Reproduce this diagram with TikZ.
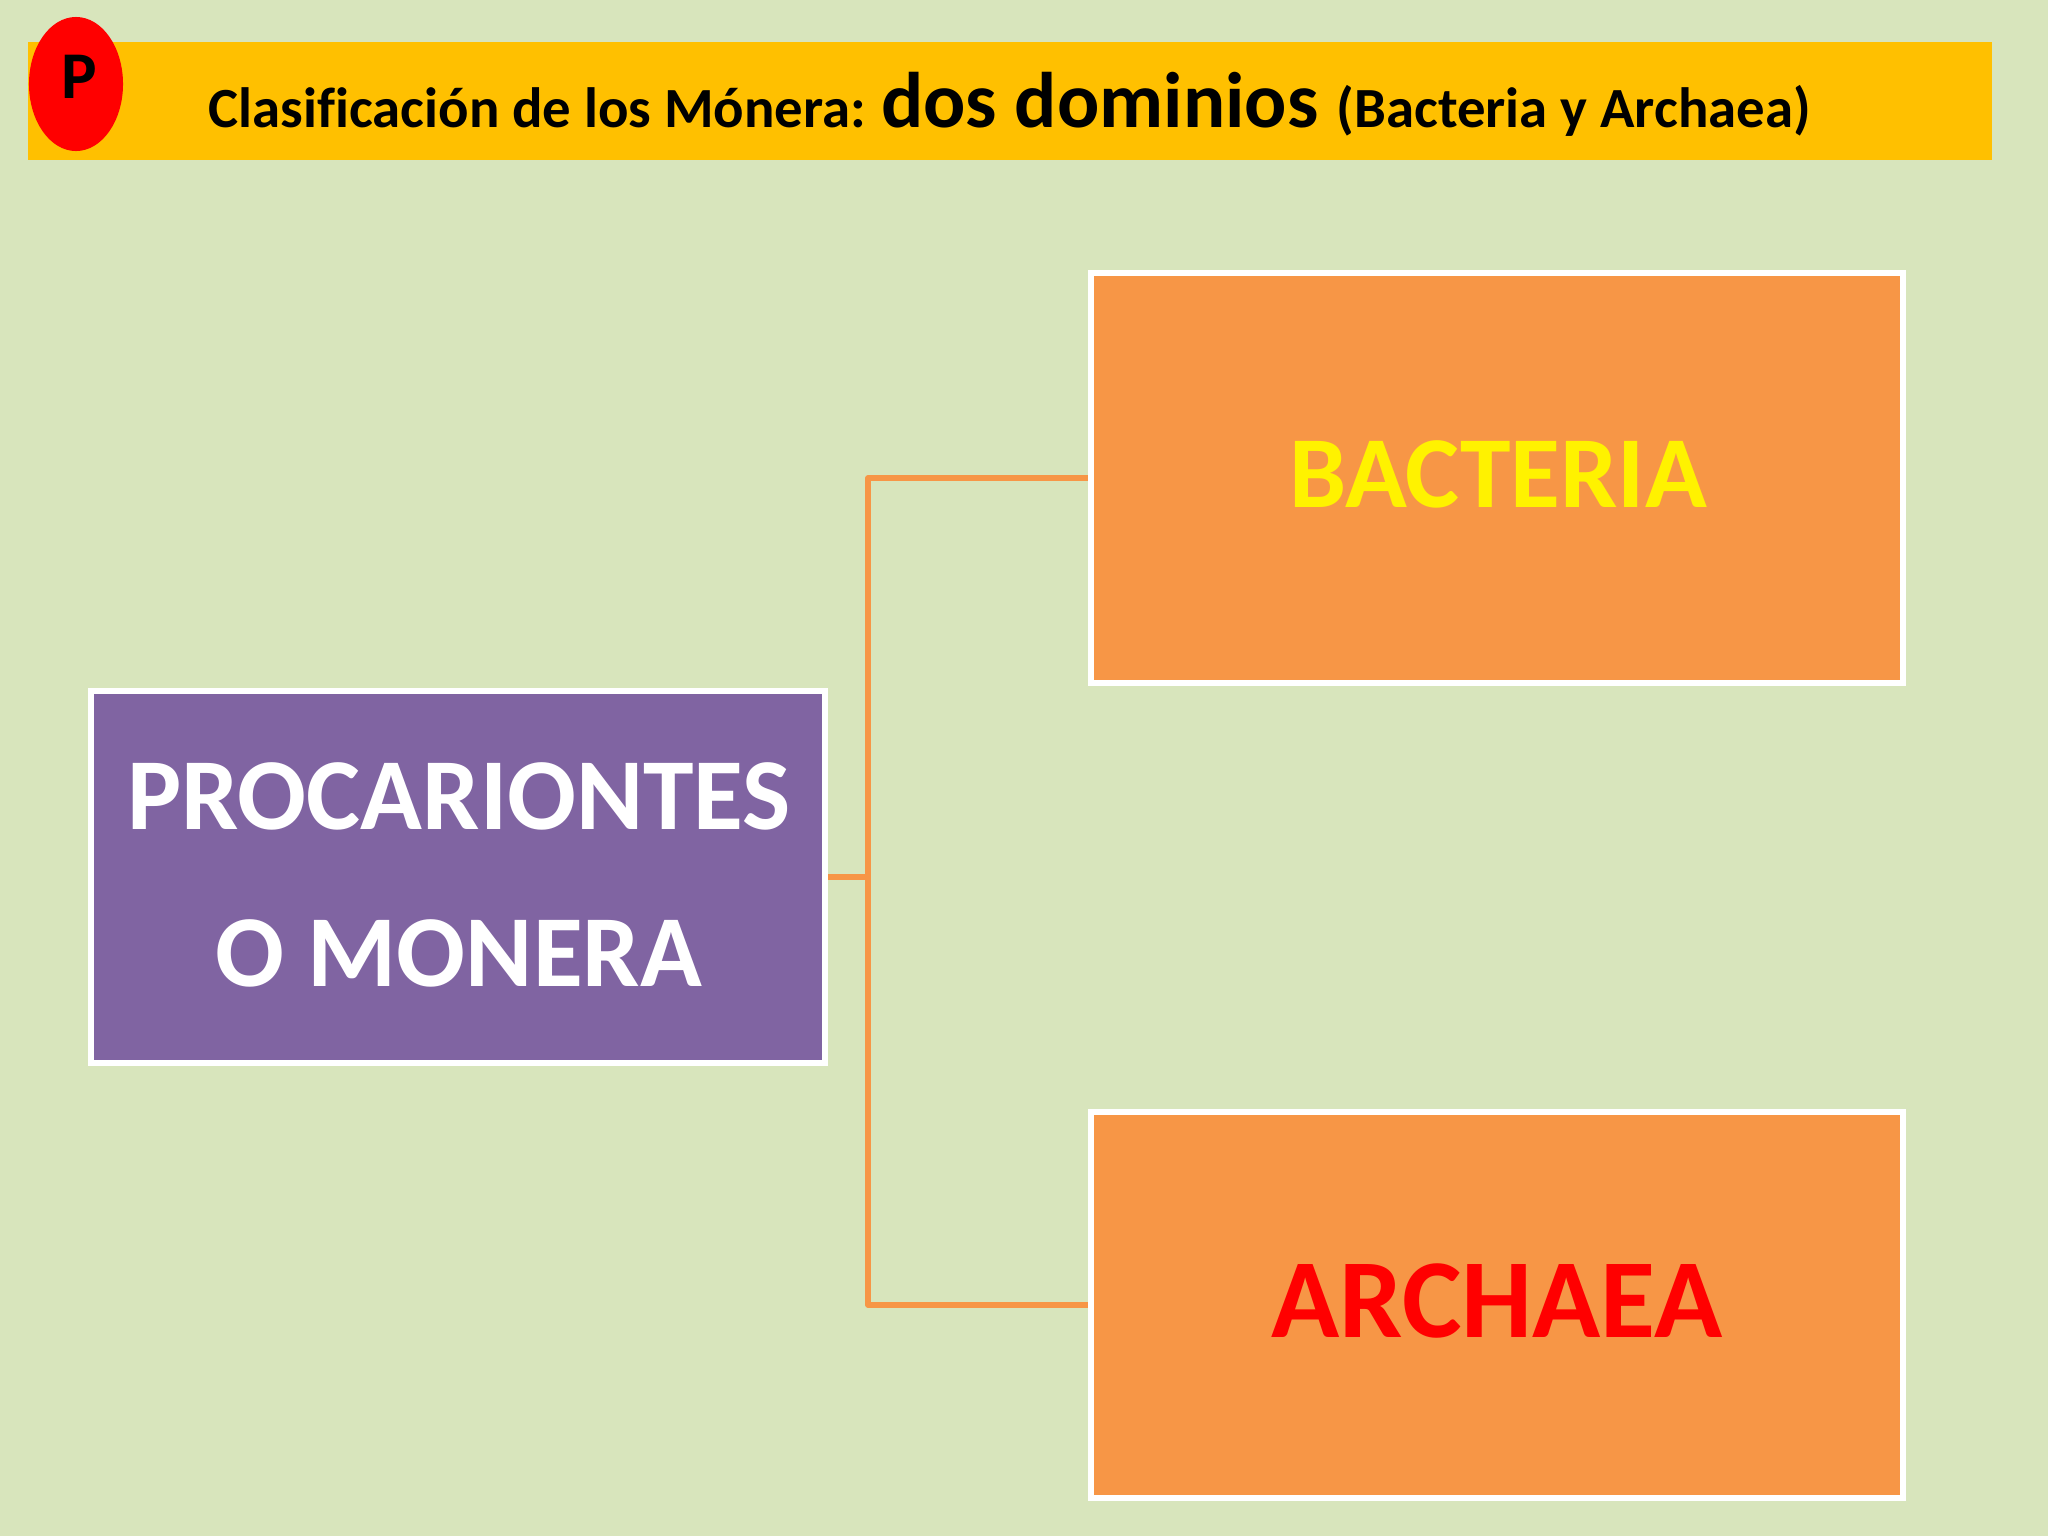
\documentclass[tikz,border=0pt]{standalone}
\usepackage{fontspec}
\setmainfont[Ligatures=NoCommon]{Carlito}
\usetikzlibrary{shapes.geometric}
\definecolor{fondo}{HTML}{D8E5BC}
\definecolor{banda}{HTML}{FFC000}
\definecolor{naranja}{HTML}{F79646}
\definecolor{morado}{HTML}{8064A2}
\tikzset{
    caja/.style={draw=white,line width=.06cm,inner sep=0pt},
    rotulo/.style={inner sep=0pt,align=center},
    enlace/.style={draw=naranja,line width=.055cm,line join=round},
}
\begin{document}
\begin{tikzpicture}[x=.01cm,y=-.01cm]
    \fill[fondo] (0,0) rectangle (2048,1536);
    \node[fill=banda,inner sep=0pt,minimum width=19.62cm,minimum height=1.18cm] (banda) at (1010,101) {};
    \node[ellipse,fill=red,inner sep=0pt,minimum width=.94cm,minimum height=1.34cm] (circulo) at (76,84) {};
    \node[rotulo,font=\fontsize{19}{19}\selectfont\bfseries] (letra) at (79,77) {P};
    \node[anchor=base west,inner sep=0pt,font=\fontsize{16.15}{16}\selectfont\bfseries] (titulo) at (208,127)
        {Clasificación de los Mónera:\hspace{-.6pt} {\fontsize{22.4}{22}\selectfont dos dominios}\hspace{1.6pt} (Bacteria y Archaea)};
    \node[caja,fill=morado,minimum width=7.34cm,minimum height=3.72cm] (monera) at (458,877) {};
    \node[caja,fill=naranja,minimum width=8.12cm,minimum height=4.10cm] (bacteria) at (1497,478) {};
    \node[caja,fill=naranja,minimum width=8.12cm,minimum height=3.86cm] (archaea) at (1497,1305) {};
    \node[rotulo,text=white,font=\fontsize{29}{44.6}\selectfont\bfseries] (moneranom) at (459,875) {PROCARIONTES\\O MONERA};
    \node[rotulo,text=yellow,font=\fontsize{29}{29}\selectfont\bfseries] (bacterianom) at (1498,474) {BACTERIA};
    \node[rotulo,text=red,font=\fontsize{32}{32}\selectfont\bfseries] (archaeanom) at (1497,1301) {ARCHAEA};
    \coordinate (tronco) at (868,877);
    \draw[enlace] (monera.east) -- (tronco);
    \draw[enlace] (bacteria.west) -| (tronco) |- (archaea.west);
\end{tikzpicture}
\end{document}
